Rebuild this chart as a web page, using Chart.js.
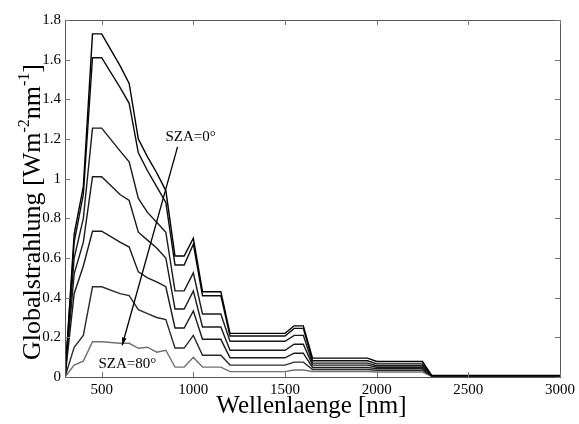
<!DOCTYPE html>
<html>
<head>
<meta charset="utf-8">
<script src="https://cdn.jsdelivr.net/npm/chart.js@4.4.1/dist/chart.umd.min.js"></script>
<style>
  html, body { margin: 0; padding: 0; background: #fff; }
  canvas { display: block; }
</style>
</head>
<body>
<canvas id="globalChart" width="579" height="424"></canvas>
<script>
// Wavelength grid [nm]
const wavelengths = [300, 350, 400, 450, 500, 600, 650, 700, 750, 800, 850, 900, 950, 1000,
  1050, 1150, 1200, 1500, 1550, 1600, 1650, 1950, 2000, 2250, 2300, 3000];

// Global irradiance [W m^-2 nm^-1], highest sun (SZA=0°) first, lowest sun (SZA=80°) last
const glob1 = [0, 0.72, 0.96, 1.73, 1.73, 1.57, 1.48, 1.20, 1.11, 1.03, 0.94, 0.61, 0.61, 0.70,
  0.43, 0.43, 0.22, 0.22, 0.258, 0.258, 0.095, 0.095, 0.078, 0.078, 0.008, 0.008];
const glob2 = [0, 0.68, 0.92, 1.61, 1.61, 1.46, 1.38, 1.13, 1.04, 0.96, 0.88, 0.565, 0.565, 0.67,
  0.41, 0.41, 0.207, 0.207, 0.245, 0.245, 0.082, 0.082, 0.066, 0.066, 0.007, 0.007];
const glob3 = [0, 0.60, 0.80, 1.255, 1.255, 1.14, 1.085, 0.90, 0.83, 0.78, 0.73, 0.434, 0.434, 0.525,
  0.318, 0.318, 0.18, 0.18, 0.21, 0.21, 0.07, 0.07, 0.057, 0.057, 0.006, 0.006];
const glob4 = [0, 0.52, 0.68, 1.01, 1.01, 0.92, 0.89, 0.73, 0.69, 0.65, 0.60, 0.343, 0.343, 0.434,
  0.252, 0.252, 0.135, 0.135, 0.165, 0.165, 0.06, 0.06, 0.049, 0.049, 0.006, 0.006];
const glob5 = [0, 0.42, 0.56, 0.735, 0.735, 0.68, 0.655, 0.53, 0.50, 0.48, 0.455, 0.247, 0.247, 0.333,
  0.19, 0.19, 0.097, 0.097, 0.12, 0.12, 0.048, 0.048, 0.042, 0.042, 0.005, 0.005];
const glob6 = [0, 0.15, 0.21, 0.455, 0.455, 0.42, 0.41, 0.34, 0.32, 0.30, 0.29, 0.146, 0.146, 0.21,
  0.11, 0.11, 0.06, 0.06, 0.075, 0.075, 0.038, 0.038, 0.034, 0.034, 0.005, 0.005];
const glob7 = [0, 0.06, 0.08, 0.178, 0.178, 0.17, 0.17, 0.145, 0.15, 0.125, 0.135, 0.05, 0.05, 0.10,
  0.05, 0.05, 0.027, 0.027, 0.035, 0.035, 0.028, 0.028, 0.025, 0.025, 0.004, 0.004];

const curves = [glob1, glob2, glob3, glob4, glob5, glob6, glob7];
const curveColors = ['#000', '#0d0d0d', '#1a1a1a', '#1a1a1a', '#1a1a1a', '#2a2a2a', '#707070'];

// Axis ticks
const xTicks = [500, 1000, 1500, 2000, 2500, 3000];
const yTicks = [0, 0.2, 0.4, 0.6, 0.8, 1, 1.2, 1.4, 1.6, 1.8];

const serif = '"Liberation Serif", "DejaVu Serif", serif';

// Box, inward tick marks, axis titles and the SZA arrow
const framePlugin = {
  id: 'frame',
  afterDatasetsDraw(chart) {
    const { ctx, chartArea: a, scales: { x, y } } = chart;
    ctx.save();
    ctx.strokeStyle = '#555';
    ctx.lineWidth = 1;
    ctx.strokeRect(a.left + 0.5, a.top + 0.5, a.right - a.left, a.bottom - a.top);

    ctx.strokeStyle = '#777';
    ctx.beginPath();
    xTicks.forEach(v => {
      const px = Math.round(x.getPixelForValue(v)) + 0.5;
      ctx.moveTo(px, a.bottom); ctx.lineTo(px, a.bottom - 5);
      ctx.moveTo(px, a.top); ctx.lineTo(px, a.top + 5);
    });
    yTicks.forEach(v => {
      const py = Math.round(y.getPixelForValue(v)) + 0.5;
      ctx.moveTo(a.left, py); ctx.lineTo(a.left + 5, py);
      ctx.moveTo(a.right, py); ctx.lineTo(a.right - 5, py);
    });
    ctx.stroke();

    // arrow from SZA=0° down to SZA=80°
    const x0 = x.getPixelForValue(914), y0 = y.getPixelForValue(1.16);
    const x1 = x.getPixelForValue(612), y1 = y.getPixelForValue(0.16);
    ctx.strokeStyle = '#000';
    ctx.fillStyle = '#000';
    ctx.lineWidth = 1.3;
    ctx.beginPath();
    ctx.moveTo(x0, y0); ctx.lineTo(x1, y1);
    ctx.stroke();
    const ang = Math.atan2(y1 - y0, x1 - x0);
    ctx.beginPath();
    ctx.moveTo(x1, y1);
    ctx.lineTo(x1 - 8 * Math.cos(ang - 0.3), y1 - 8 * Math.sin(ang - 0.3));
    ctx.lineTo(x1 - 8 * Math.cos(ang + 0.3), y1 - 8 * Math.sin(ang + 0.3));
    ctx.closePath();
    ctx.fill();

    ctx.font = '15px ' + serif;
    ctx.textAlign = 'center';
    ctx.textBaseline = 'alphabetic';
    ctx.fillText('SZA=0°', x.getPixelForValue(985), y.getPixelForValue(1.19));
    ctx.fillText('SZA=80°', x.getPixelForValue(640), y.getPixelForValue(0.045));
    ctx.restore();
  },
  afterDraw(chart) {
    const { ctx, chartArea: a } = chart;
    ctx.save();
    ctx.fillStyle = '#000';
    ctx.textBaseline = 'alphabetic';

    // x title
    ctx.font = '25px ' + serif;
    ctx.textAlign = 'center';
    ctx.fillText('Wellenlaenge [nm]', (a.left + a.right) / 2 - 1, 413);

    // y title with superscripts, rotated
    const parts = [
      ['Globalstrahlung [Wm', false], ['-2', true], ['nm', false], ['-1', true], [']', false]
    ];
    const big = '26px ' + serif, small = '16px ' + serif;
    let total = 0;
    parts.forEach(([t, sup]) => { ctx.font = sup ? small : big; total += ctx.measureText(t).width; });
    ctx.translate(40, 212);
    ctx.rotate(-Math.PI / 2);
    ctx.textAlign = 'left';
    let pos = -total / 2;
    parts.forEach(([t, sup]) => {
      ctx.font = sup ? small : big;
      ctx.fillText(t, pos, sup ? -11 : 0);
      pos += ctx.measureText(t).width;
    });
    ctx.restore();
  }
};

new Chart(document.getElementById('globalChart'), {
  type: 'line',
  data: {
    datasets: curves.map((c, i) => ({
      data: wavelengths.map((w, j) => ({ x: w, y: c[j] })),
      borderColor: curveColors[i],
      borderWidth: 1.4,
      pointRadius: 0,
      tension: 0,
      fill: false
    }))
  },
  options: {
    responsive: false,
    animation: false,
    layout: { padding: { top: 20, right: 17, bottom: 0, left: 0 } },
    plugins: {
      legend: { display: false },
      tooltip: { enabled: false }
    },
    scales: {
      x: {
        type: 'linear',
        min: 300,
        max: 3000,
        afterBuildTicks: s => { s.ticks = xTicks.map(v => ({ value: v })); },
        afterFit: s => { s.height = 47; },
        grid: { display: false, drawTicks: false },
        border: { display: false },
        ticks: {
          padding: 4,
          color: '#000',
          font: { family: serif, size: 15 },
          maxRotation: 0,
          callback: v => String(v)
        }
      },
      y: {
        min: 0,
        max: 1.8,
        afterBuildTicks: s => { s.ticks = yTicks.map(v => ({ value: v })); },
        afterFit: s => { s.width = 65; },
        grid: { display: false, drawTicks: false },
        border: { display: false },
        ticks: {
          padding: 4,
          color: '#000',
          font: { family: serif, size: 15 },
          callback: v => String(+v.toFixed(1))
        }
      }
    }
  },
  plugins: [framePlugin]
});
</script>
</body>
</html>
